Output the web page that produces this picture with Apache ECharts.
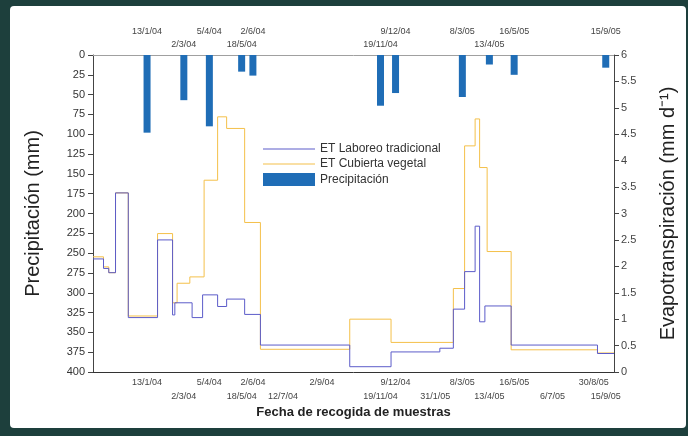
<!DOCTYPE html>
<html>
<head>
<meta charset="utf-8">
<script src="https://cdn.jsdelivr.net/npm/echarts@6/dist/echarts.min.js"></script>
<style>
  html, body { margin: 0; padding: 0; width: 688px; height: 436px; background: #1d3f3c; overflow: hidden; }
  #panel { position: absolute; left: 10px; top: 6px; width: 676px; height: 422px; background: #ffffff; border-radius: 4px; }
  #chart { position: absolute; left: 0; top: 0; width: 688px; height: 436px; }
</style>
</head>
<body>
<div id="panel"></div>
<div id="chart"></div>
<script>
// ---- Data ----
const precipDates  = ['2004-01-13','2004-03-02','2004-04-05','2004-05-18','2004-06-02','2004-11-19','2004-12-09','2005-03-08','2005-04-13','2005-05-16','2005-09-15'];
const precipValues = [98, 57, 90, 21, 26, 64, 48, 53, 12, 25, 16];

const etLtDates  = ['2003-11-02','2003-11-16','2003-11-23','2003-12-02','2003-12-19','2004-01-27','2004-02-16','2004-02-19','2004-03-13','2004-03-27','2004-04-16','2004-04-28','2004-05-22','2004-06-12','2004-10-09','2004-12-03','2005-02-06','2005-02-24','2005-03-11','2005-03-25','2005-03-31','2005-04-07','2005-05-12','2005-09-04','2005-09-26'];
const etLtValues = [2.14, 1.96, 1.88, 3.39, 1.03, 2.50, 1.08, 1.31, 1.03, 1.46, 1.24, 1.38, 1.09, 0.51, 0.10, 0.38, 0.45, 1.19, 1.90, 2.76, 0.95, 1.25, 0.51, 0.35, 0.35];

const etCvDates  = ['2003-11-02','2003-11-16','2003-11-23','2003-12-02','2003-12-19','2004-01-27','2004-02-16','2004-02-22','2004-03-10','2004-03-29','2004-04-16','2004-04-28','2004-05-22','2004-06-12','2004-10-09','2004-12-03','2005-02-24','2005-03-11','2005-03-25','2005-03-31','2005-04-10','2005-05-12','2005-09-04','2005-09-26'];
const etCvValues = [2.18, 1.99, 1.88, 3.39, 1.06, 2.62, 1.31, 1.68, 1.80, 3.63, 4.83, 4.61, 2.83, 0.43, 1.00, 0.56, 1.58, 4.28, 4.79, 3.87, 2.28, 0.42, 0.36, 0.36];

const bottomLabelsRow1 = ['13/1/04','5/4/04','2/6/04','2/9/04','9/12/04','8/3/05','16/5/05','30/8/05'];
const bottomLabelsRow2 = ['2/3/04','18/5/04','12/7/04','19/11/04','31/1/05','13/4/05','6/7/05','15/9/05'];
const topLabelsRow1    = ['2/3/04','18/5/04','19/11/04','13/4/05'];
const topLabelsRow2    = ['13/1/04','5/4/04','2/6/04','9/12/04','8/3/05','16/5/05','15/9/05'];

const xMin = '2003-11-02';
const xMax = '2005-09-26';

const seriesNames = ['ET Laboreo tradicional', 'ET Cubierta vegetal', 'Precipitación'];

// ---- Helpers ----
function labelToTime(s) {
  const p = s.split('/');
  return Date.UTC(2000 + parseInt(p[2], 10), parseInt(p[1], 10) - 1, parseInt(p[0], 10));
}
function isoToTime(s) {
  const p = s.split('-');
  return Date.UTC(parseInt(p[0], 10), parseInt(p[1], 10) - 1, parseInt(p[2], 10));
}
const FONT = 'Liberation Sans, Arial, sans-serif';

function makeLabelAxis(labels, position, offset, showLine) {
  const times = labels.map(labelToTime);
  return {
    type: 'value',
    position: position,
    offset: offset,
    min: isoToTime(xMin),
    max: isoToTime(xMax),
    axisLine: { show: showLine, onZero: false, lineStyle: { color: position === 'top' ? '#a0a0a0' : '#333', width: 1 } },
    axisTick: { show: false },
    splitLine: { show: false },
    axisLabel: {
      customValues: times,
      margin: 6,
      fontSize: 9,
      fontFamily: FONT,
      color: '#444',
      hideOverlap: false,
      formatter: function (v) {
        for (let i = 0; i < times.length; i++) {
          if (Math.abs(times[i] - v) < 43200000) return labels[i];
        }
        return '';
      }
    }
  };
}

const chart = echarts.init(document.getElementById('chart'), null, { renderer: 'canvas' });

const xAxes = [
  makeLabelAxis(bottomLabelsRow1, 'bottom', 0, true),
  makeLabelAxis(bottomLabelsRow2, 'bottom', 14, false),
  makeLabelAxis(topLabelsRow1, 'top', 0, true),
  makeLabelAxis(topLabelsRow2, 'top', 13, false)
];
xAxes[0].name = 'Fecha de recogida de muestras';
xAxes[0].nameLocation = 'middle';
xAxes[0].nameGap = 34;
xAxes[0].nameTextStyle = { fontSize: 13, fontWeight: 'bold', color: '#222', fontFamily: FONT };

const lineIcon = 'path://M0,0 L52,0 L52,1 L0,1 Z';

const option = {
  backgroundColor: 'transparent',
  animation: false,
  grid: { left: 93, right: 74, top: 55, bottom: 64 },
  legend: {
    orient: 'vertical',
    left: 258,
    top: 138,
    itemWidth: 52,
    itemHeight: 13,
    itemGap: 3,
    textStyle: { fontSize: 12, color: '#333', fontFamily: FONT },
    data: [
      { name: seriesNames[0], icon: lineIcon, itemStyle: { color: '#5c5cc9' } },
      { name: seriesNames[1], icon: lineIcon, itemStyle: { color: '#f4c04a' } },
      { name: seriesNames[2], icon: 'rect' }
    ]
  },
  xAxis: xAxes,
  yAxis: [
    {
      type: 'value',
      inverse: true,
      min: 0, max: 400, interval: 25,
      position: 'left',
      name: 'Precipitación (mm)',
      nameLocation: 'middle',
      nameGap: 50,
      nameTextStyle: { fontSize: 20, color: '#222', fontFamily: FONT },
      axisLine: { show: true, lineStyle: { color: '#444' } },
      axisTick: { show: true, inside: false, length: 5, lineStyle: { color: '#444' } },
      axisLabel: { fontSize: 11, color: '#333', margin: 8, fontFamily: FONT },
      splitLine: { show: false }
    },
    {
      type: 'value',
      min: 0, max: 6, interval: 0.5,
      position: 'right',
      name: 'Evapotranspiración (mm d\u207B\u00B9)',
      nameLocation: 'middle',
      nameGap: 44,
      nameRotate: 90,
      nameTextStyle: { fontSize: 20, color: '#222', fontFamily: FONT },
      axisLine: { show: true, lineStyle: { color: '#444' } },
      axisTick: { show: true, inside: false, length: 5, lineStyle: { color: '#444' } },
      axisLabel: { fontSize: 11, color: '#444', margin: 7, fontFamily: FONT },
      splitLine: { show: false }
    }
  ],
  series: [
    {
      name: seriesNames[0],
      type: 'line',
      step: 'end',
      xAxisIndex: 0,
      yAxisIndex: 1,
      symbol: 'none',
      lineStyle: { color: '#5c5cc9', width: 1 },
      itemStyle: { color: '#5c5cc9' },
      data: etLtDates.map((d, i) => [isoToTime(d), etLtValues[i]]),
      z: 4
    },
    {
      name: seriesNames[1],
      type: 'line',
      step: 'end',
      xAxisIndex: 0,
      yAxisIndex: 1,
      symbol: 'none',
      lineStyle: { color: '#f4c04a', width: 1 },
      itemStyle: { color: '#f4c04a' },
      data: etCvDates.map((d, i) => [isoToTime(d), etCvValues[i]]),
      z: 3
    },
    {
      name: seriesNames[2],
      type: 'bar',
      xAxisIndex: 0,
      yAxisIndex: 0,
      barWidth: 7,
      itemStyle: { color: '#1f6db6' },
      data: precipDates.map((d, i) => [isoToTime(d), precipValues[i]]),
      z: 2
    }
  ]
};
chart.setOption(option);
</script>
</body>
</html>
